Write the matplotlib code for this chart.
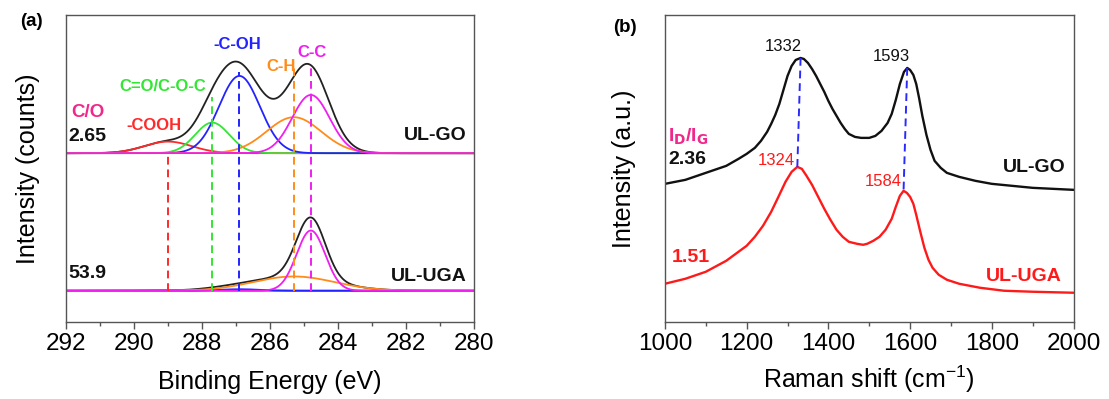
import numpy as np
import matplotlib
matplotlib.use("Agg")
import matplotlib.pyplot as plt
from matplotlib.ticker import MultipleLocator

plt.rcParams['font.family'] = ['Liberation Sans', 'DejaVu Sans']
plt.rcParams['mathtext.default'] = 'regular'

# ---- (a) XPS C1s fit components: centre (eV), height, sigma ----
comp_names = ['-COOH', 'C=O/C-O-C', '-C-OH', 'C-H', 'C-C']
comp_colors = ['#ff2a2a', '#33e633', '#2323ff', '#ff8c1a', '#f01ef0']
comp_centers = [289.0, 287.7, 286.9, 285.3, 284.8]
go_heights = [11.6, 30.6, 77.3, 36.0, 58.3]
go_sigmas = [0.7, 0.5, 0.6, 0.8, 0.55]
uga_centers = [289.0, 287.7, 286.9, 285.3, 284.8]
uga_heights = [0.3, 0.8, 1.5, 14.3, 60.3]
uga_sigmas = [0.7, 0.5, 0.6, 1.2, 0.42]
go_offset = 168.7
uga_offset = 31.0
dash_tops = [166.0, 225.0, 250.0, 255.0, 255.0]
co_ratio = ['2.65', '53.9']

# ---- (b) Raman spectra ----
go_x = [1000, 1050, 1100, 1150, 1180, 1200, 1220, 1235, 1250, 1260, 1270, 1280,
        1290, 1300, 1310, 1320, 1332, 1340, 1350, 1360, 1370, 1380, 1390, 1400,
        1410, 1420, 1430, 1440, 1450, 1465, 1480, 1500, 1515, 1530, 1545, 1555,
        1565, 1575, 1585, 1593, 1600, 1608, 1615, 1622, 1630, 1640, 1650, 1660,
        1675, 1690, 1720, 1760, 1800, 1850, 1900, 1950, 2000]
go_y = [138, 142, 149, 156, 163, 168, 174, 181, 190, 198, 207, 218,
        232, 246, 256, 262, 264, 263, 259, 253, 246, 238, 230, 221,
        213, 206, 199, 193, 188, 185, 184, 184, 186, 191, 199, 208,
        222, 238, 250, 254, 252, 247, 238, 224, 206, 187, 172, 161,
        154, 149, 145, 141, 138, 136, 134, 133, 132]
uga_x = [1000, 1050, 1100, 1150, 1180, 1200, 1220, 1240, 1260, 1280, 1295, 1310,
         1324, 1335, 1345, 1360, 1375, 1390, 1405, 1420, 1435, 1450, 1470, 1485,
         1495, 1510, 1525, 1540, 1555, 1565, 1575, 1584, 1592, 1600, 1608, 1615,
         1625, 1635, 1645, 1655, 1670, 1690, 1720, 1771, 1830, 1900, 2000]
uga_y = [38, 43, 50, 61, 70, 76, 85, 96, 110, 127, 140, 150,
         155, 153, 147, 137, 125, 113, 102, 92, 85, 80, 78, 77,
         78, 81, 85, 92, 103, 115, 126, 131, 129, 125, 118, 107,
         90, 74, 62, 54, 47, 42, 38, 34, 31, 30, 29]
go_peaks = [1332, 1593]
uga_peaks = [1324, 1584]
id_ig = ['2.36', '1.51']

spine_col = '#555555'

fig = plt.figure(figsize=(11.09, 3.99), dpi=100)
ax1 = fig.add_axes([0.0595, 0.1937, 0.368, 0.7687])
ax2 = fig.add_axes([0.5996, 0.1937, 0.3684, 0.7687])

# ---------- panel (a) ----------
E = np.linspace(292, 280, 1200)


def gauss(c, h, s):
    return h * np.exp(-(E - c) ** 2 / (2 * s ** 2))


for off, cen, hts, sig in [(go_offset, comp_centers, go_heights, go_sigmas),
                           (uga_offset, uga_centers, uga_heights, uga_sigmas)]:
    comps = [gauss(c, h, s) for c, h, s in zip(cen, hts, sig)]
    ax1.plot(E, off + sum(comps), color='#222222', lw=1.3)
    for comp, col in zip(comps, comp_colors):
        ax1.plot(E, off + comp, color=col, lw=1.3)

for c, top, col in zip(comp_centers, dash_tops, comp_colors):
    ax1.plot([c, c], [uga_offset, top], color=col, lw=1.4, ls=(0, (4, 2.5)))

ax1.set_xlim(292, 280)
ax1.set_ylim(0, 307)
ax1.set_yticks([])
ax1.xaxis.set_major_locator(MultipleLocator(2))
ax1.xaxis.set_minor_locator(MultipleLocator(1))
ax1.set_xlabel('Binding Energy (eV)', fontsize=18, labelpad=11)
ax1.set_ylabel('Intensity (counts)', fontsize=18, labelpad=19)

lab_pos = [(289.4, 196), (289.15, 235), (286.96, 277), (285.67, 255), (284.76, 269)]
for name, (x, y), col in zip(comp_names, lab_pos, comp_colors):
    ax1.text(x, y, name, color=col, fontsize=12, fontweight='bold', ha='center', va='center')
ax1.text(291.85, 209, 'C/O', color='#f0288c', fontsize=13.5, fontweight='bold', va='center')
ax1.text(291.92, 185, co_ratio[0], color='#111111', fontsize=14, fontweight='bold', va='center')
ax1.text(291.92, 48, co_ratio[1], color='#111111', fontsize=14, fontweight='bold', va='center')
ax1.text(280.22, 186, 'UL-GO', color='#111111', fontsize=14, fontweight='bold', ha='right', va='center')
ax1.text(280.22, 45, 'UL-UGA', color='#111111', fontsize=14, fontweight='bold', ha='right', va='center')

# ---------- panel (b) ----------
ax2.plot(go_x, go_y, color='#111111', lw=1.7)
ax2.plot(uga_x, uga_y, color='#ff1a1a', lw=1.7)
for p_go, p_uga in zip(go_peaks, uga_peaks):
    y_top = np.interp(p_go, go_x, go_y)
    y_bot = np.interp(p_uga, uga_x, uga_y)
    ax2.plot([p_go, p_uga], [y_top, y_bot], color='#2a2aff', lw=1.4, ls=(0, (4, 2.5)))

ax2.set_xlim(1000, 2000)
ax2.set_ylim(0, 307)
ax2.set_yticks([])
ax2.xaxis.set_major_locator(MultipleLocator(200))
ax2.xaxis.set_minor_locator(MultipleLocator(100))
ax2.set_xlabel('Raman shift (cm$^{-1}$)', fontsize=18, labelpad=6)
ax2.set_ylabel('Intensity (a.u.)', fontsize=18, labelpad=21)

ax2.text(1334, 275, str(go_peaks[0]), color='#111111', fontsize=12, ha='right', va='center')
ax2.text(1600, 265, str(go_peaks[1]), color='#111111', fontsize=12, ha='right', va='center')
ax2.text(1318, 161, str(uga_peaks[0]), color='#ff1a1a', fontsize=12, ha='right', va='center')
ax2.text(1579, 140, str(uga_peaks[1]), color='#ff1a1a', fontsize=12, ha='right', va='center')
ax2.text(1007, 186, r'I$_\mathbf{D}$/I$_\mathbf{G}$', color='#f0288c', fontsize=14,
         fontweight='bold', va='center')
ax2.text(1008, 162, id_ig[0], color='#111111', fontsize=14, fontweight='bold', va='center')
ax2.text(1016, 64, id_ig[1], color='#ff1a1a', fontsize=14, fontweight='bold', va='center')
ax2.text(1980, 154, 'UL-GO', color='#111111', fontsize=14, fontweight='bold', ha='right', va='center')
ax2.text(1970, 45, 'UL-UGA', color='#ff1a1a', fontsize=14, fontweight='bold', ha='right', va='center')

for ax in (ax1, ax2):
    for sp in ax.spines.values():
        sp.set_color(spine_col)
        sp.set_linewidth(1.0)
    ax.tick_params(axis='x', which='major', direction='out', length=5, width=1,
                   color=spine_col, labelsize=17.5, pad=3)
    ax.tick_params(axis='x', which='minor', direction='out', length=3, width=1, color=spine_col)

fig.text(20 / 1109, 1 - 22 / 399, '(a)', fontsize=13.5, fontweight='bold', va='center')
fig.text(613 / 1109, 1 - 27 / 399, '(b)', fontsize=13.5, fontweight='bold', va='center')

fig.savefig('out.png', dpi=100)
